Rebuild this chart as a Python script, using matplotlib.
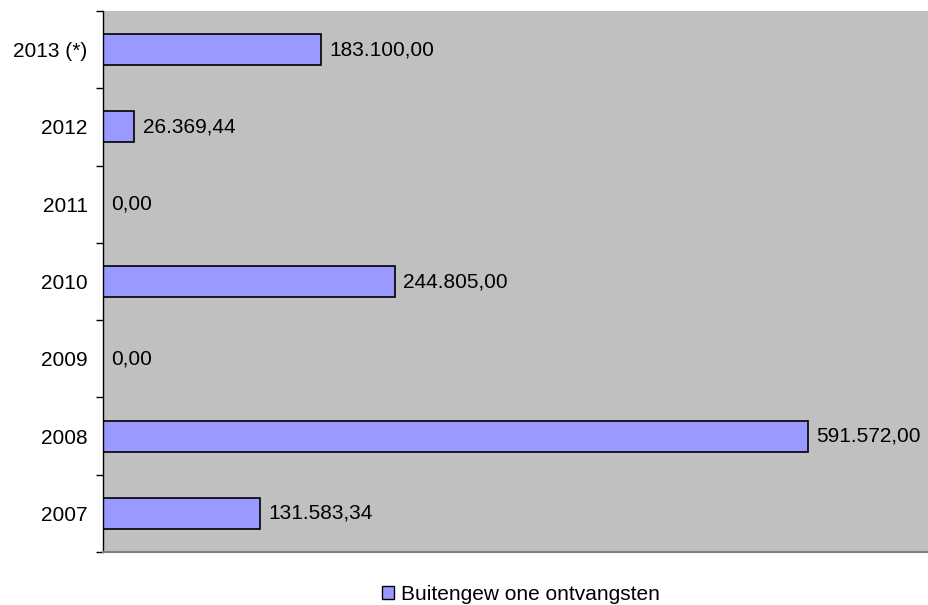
import matplotlib.pyplot as plt
from matplotlib.patches import Patch

plt.rcParams['font.family'] = ['Liberation Sans', 'DejaVu Sans']

years = ['2007', '2008', '2009', '2010', '2011', '2012', '2013 (*)']
values = [131583.34, 591572.00, 0.00, 244805.00, 0.00, 26369.44, 183100.00]
series_name = 'Buitengew one ontvangsten'


def nl_format(v):
    s = f"{v:,.2f}"
    return s.replace(',', 'X').replace('.', ',').replace('X', '.')


fig = plt.figure(figsize=(9.29, 6.05), dpi=100)
W, H = 929, 605
ax = fig.add_axes([103 / W, 1 - 552 / H, 1 - 103 / W, (552 - 11) / H])
ax.set_facecolor('#C0C0C0')

pos = list(range(len(years)))
ax.barh(pos, values, height=0.4, color='#9999FF', edgecolor='black', linewidth=1.2)
for p, v in zip(pos, values):
    ax.annotate(nl_format(v), (v, p), xytext=(6, 0), textcoords='offset points',
                va='center', ha='left', fontsize=15)

ax.set_xlim(0, 693000)
ax.set_ylim(-0.5, len(years) - 0.5)
ax.set_yticks(pos)
ax.set_yticklabels(years, fontsize=15)
ax.tick_params(axis='y', which='major', length=0, pad=11)
ax.set_yticks([i - 0.5 for i in range(len(years) + 1)], minor=True)
ax.tick_params(axis='y', which='minor', length=5, width=1, color='black')
ax.set_xticks([])

for s in ['top', 'right']:
    ax.spines[s].set_visible(False)
ax.spines['left'].set_color('black')
ax.spines['left'].set_linewidth(1)
ax.spines['bottom'].set_color('#808080')
ax.spines['bottom'].set_linewidth(1.5)

handle = Patch(facecolor='#9999FF', edgecolor='black', linewidth=1)
fig.legend([handle], [series_name], loc='center', bbox_to_anchor=(521 / W, 1 - 594 / H),
           frameon=False, fontsize=15, handlelength=0.6, handleheight=0.6, handletextpad=0.35)

fig.savefig('out.png', dpi=100)
